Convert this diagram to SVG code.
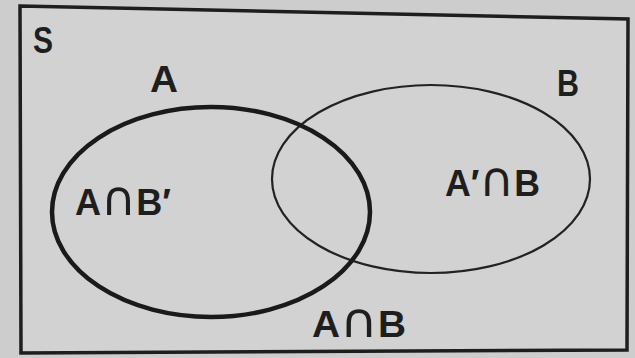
<svg xmlns="http://www.w3.org/2000/svg" width="635" height="358" viewBox="0 0 635 358">
<style>
.lbl{font-family:"Liberation Sans","DejaVu Sans",sans-serif;font-weight:bold;fill:#1e1e1e;font-size:36px}
.cap{font-family:"DejaVu Sans",sans-serif;font-size:48px;font-weight:normal}
</style>
<rect x="0" y="0" width="635" height="358" fill="#cdcdcd"/>
<g id="universe">
<polygon points="20,6 628,19 627,350 21,353" fill="#d2d2d2" stroke="#1e1e1e" stroke-width="3.5"/>
<text class="lbl" x="33" y="53" textLength="20" lengthAdjust="spacingAndGlyphs">S</text>
</g>
<g id="setB">
<ellipse cx="431" cy="179" rx="159" ry="94" fill="none" stroke="#222" stroke-width="2.2"/>
<text class="lbl" x="557" y="96" textLength="22" lengthAdjust="spacingAndGlyphs">B</text>
</g>
<g id="setA">
<ellipse cx="211" cy="212" rx="159" ry="105" fill="none" stroke="#1a1a1a" stroke-width="4.5"/>
<text class="lbl" x="150" y="92" textLength="28" lengthAdjust="spacingAndGlyphs">A</text>
</g>
<g id="labels">
<text class="lbl" x="75" y="215" textLength="96" lengthAdjust="spacingAndGlyphs">A<tspan class="cap">∩</tspan>B′</text>
<text class="lbl" x="445" y="196" textLength="95" lengthAdjust="spacingAndGlyphs">A′<tspan class="cap">∩</tspan>B</text>
<text class="lbl" x="312" y="337" textLength="94" lengthAdjust="spacingAndGlyphs">A<tspan class="cap">∩</tspan>B</text>
</g>
</svg>
